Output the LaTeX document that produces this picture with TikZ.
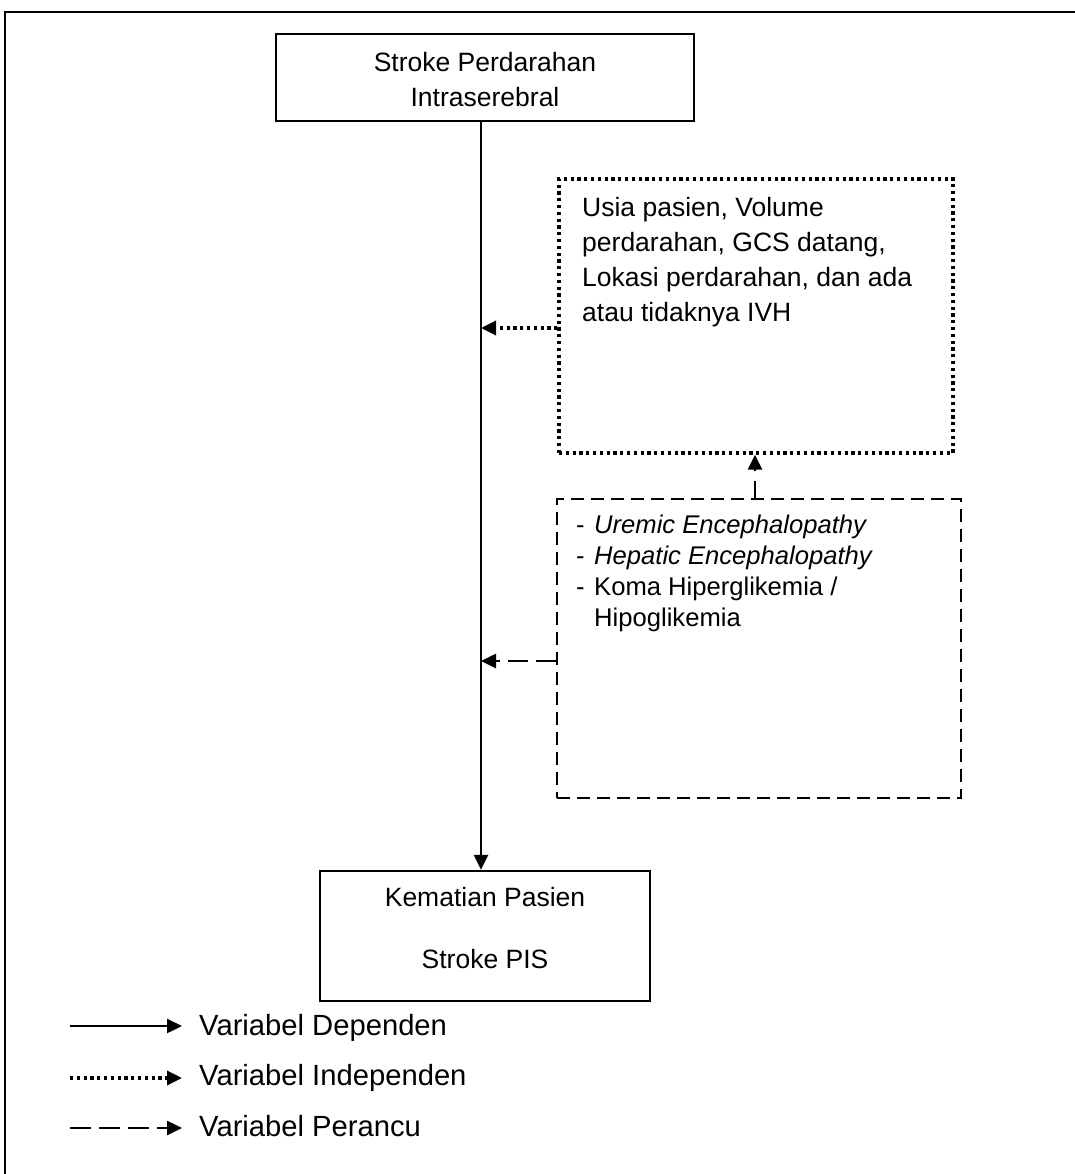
\documentclass[tikz,border=0pt]{standalone}
\usepackage{fontspec}
\setmainfont{Liberation Sans}
\usetikzlibrary{arrows.meta}
\begin{document}
\begin{tikzpicture}[x=1pt,y=-1pt,
  box/.style={draw,line width=2.4pt,inner sep=0pt},
  dotbox/.style={draw,line width=3.4pt,dash pattern=on 3.2pt off 3.6pt,inner sep=0pt},
  dashbox/.style={draw,line width=2.2pt,dash pattern=on 13pt off 7pt,inner sep=0pt},
  solidline/.style={line width=2.4pt},
  dotline/.style={line width=3.4pt,dash pattern=on 3.2pt off 3.6pt},
  dashline/.style={line width=2.6pt,dash pattern=on 20pt off 8pt},
  tip/.style={-{Triangle[length=15pt,width=14pt]}},
  txt/.style={inner sep=0pt,font=\fontsize{26.5}{35}\selectfont},
  legtxt/.style={inner sep=0pt,anchor=base west,font=\fontsize{29.2}{35}\selectfont},
 ]
\useasboundingbox (0,0) rectangle (1075,1174);
\fill[white] (0,0) rectangle (1075,1174);
% outer frame (only top and left visible)
\draw[line width=2.8pt] (5,1174) -- (5,12) -- (1075,12);

% top box
\node[box,minimum width=418pt,minimum height=87pt] (top) at (485,77.5) {};
\node[txt,anchor=base,align=center] (toptxt) at (485,106.5) {Stroke Perdarahan\\Intraserebral};

% bottom box
\node[box,minimum width=330pt,minimum height=130pt] (bot) at (485,936) {};
\node[inner sep=0pt,anchor=base,align=center,font=\fontsize{26.5}{61.3}\selectfont] (bottxt) at (485,968) {Kematian Pasien\\Stroke PIS};

% independent box (dotted)
\node[dotbox,minimum width=394pt,minimum height=274pt] (ind) at (756,316) {};
\node[txt,anchor=base west,align=left] (indtxt) at (582,321.7) {Usia pasien, Volume\\perdarahan, GCS datang,\\Lokasi perdarahan, dan ada\\atau tidaknya IVH};

% confounding box (dashed)
\node[dashbox,minimum width=404pt,minimum height=299pt] (conf) at (759,648.5) {};
\node[inner sep=0pt,anchor=base west,font=\fontsize{25.6}{31}\selectfont] (conftxt) at (576,533)
 {\begin{tabular}[t]{@{}l@{\hspace{9.5pt}}l@{}}
  - & \textit{Uremic Encephalopathy}\\
  - & \textit{Hepatic Encephalopathy}\\
  - & Koma Hiperglikemia /\\
    & Hipoglikemia
 \end{tabular}};

% connectors
\coordinate (m1) at (481,328);
\coordinate (m2) at (481,661);
\draw[solidline,tip] ([xshift=-4pt]top.south) -- ([xshift=-4pt]bot.north);
\draw[dotline,tip] (ind.west |- m1) -- (m1);
\draw[dashline,tip] (conf.west |- m2) -- (m2);
\draw[line width=2.6pt,dash pattern=on 17pt off 10pt,tip] ([xshift=-1pt]conf.north -| ind.south) -- ([xshift=-1pt]ind.south);

% legend
\coordinate (l1a) at (70,1026); \coordinate (l1b) at (182,1026);
\coordinate (l2a) at (70,1078); \coordinate (l2b) at (182,1078);
\coordinate (l3a) at (70,1128); \coordinate (l3b) at (182,1128);
\draw[solidline,tip] (l1a) -- (l1b);
\draw[dotline,tip] (l2a) -- (l2b);
\draw[line width=2.6pt,dash pattern=on 21pt off 8pt,tip] (l3a) -- (l3b);
\node[legtxt] (leg1) at (199,1035) {Variabel Dependen};
\node[legtxt] (leg2) at (199,1085) {Variabel Independen};
\node[legtxt] (leg3) at (199,1136) {Variabel Perancu};
\end{tikzpicture}
\end{document}
